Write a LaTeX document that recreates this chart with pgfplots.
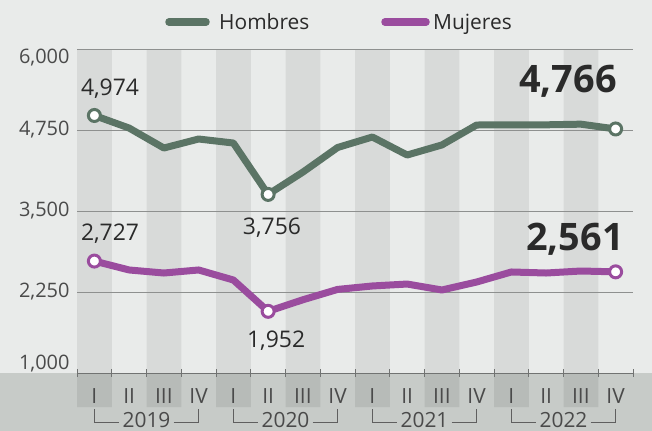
\documentclass[border=0pt]{standalone}
\usepackage{pgfplots}
\pgfplotsset{compat=1.18}
\usepackage{fontspec}
\setmainfont{Open Sans}
\definecolor{bg}{HTML}{E9EBEA}
\definecolor{stripe}{HTML}{D8DAD9}
\definecolor{band}{HTML}{C7CBC8}
\definecolor{bandstripe}{HTML}{B7BBB8}
\definecolor{hom}{HTML}{5B7465}
\definecolor{muj}{HTML}{9A4C9E}
\definecolor{gridc}{HTML}{8E908F}
\definecolor{txt}{HTML}{2A2A2A}
\begin{document}
\begin{tikzpicture}
\fill[bg] (-77bp,-58bp) rectangle (575bp,373bp);
\fill[band] (-77bp,-58bp) rectangle (575bp,0bp);
\begin{axis}[
  at={(0,0)}, anchor=south west, scale only axis,
  width=556bp, height=324bp,
  xmin=-0.5, xmax=15.5, ymin=1000, ymax=6000,
  clip=false,
  axis line style={draw=none},
  major tick length=0pt,
  xtick=\empty,
  ytick={1139,2250,3500,4750,5869},
  yticklabels={{1,000},{2,250},{3,500},{4,750},{6,000}},
  yticklabel style={anchor=east, xshift=-4bp, text=txt!85},
  /pgf/number format/assume math mode=true,
  tick label style={font=\fontsize{20}{24}\selectfont},
]
% stripes
\fill[stripe] (axis cs:-0.5,1000) rectangle (axis cs:0.5,6000)
  (axis cs:1.5,1000) rectangle (axis cs:2.5,6000)
  (axis cs:3.5,1000) rectangle (axis cs:4.5,6000)
  (axis cs:5.5,1000) rectangle (axis cs:6.5,6000)
  (axis cs:7.5,1000) rectangle (axis cs:8.5,6000)
  (axis cs:9.5,1000) rectangle (axis cs:10.5,6000)
  (axis cs:11.5,1000) rectangle (axis cs:12.5,6000)
  (axis cs:13.5,1000) rectangle (axis cs:14.5,6000);
\fill[bandstripe] (axis cs:-0.5,475) rectangle (axis cs:0.5,1000)
  (axis cs:1.5,475) rectangle (axis cs:2.5,1000)
  (axis cs:3.5,475) rectangle (axis cs:4.5,1000)
  (axis cs:5.5,475) rectangle (axis cs:6.5,1000)
  (axis cs:7.5,475) rectangle (axis cs:8.5,1000)
  (axis cs:9.5,475) rectangle (axis cs:10.5,1000)
  (axis cs:11.5,475) rectangle (axis cs:12.5,1000)
  (axis cs:13.5,475) rectangle (axis cs:14.5,1000);
% grid
\draw[gridc, line width=1bp] (axis cs:-0.5,2250) -- (axis cs:15.5,2250)
  (axis cs:-0.5,3500) -- (axis cs:15.5,3500)
  (axis cs:-0.5,4750) -- (axis cs:15.5,4750)
  (axis cs:-0.5,6000) -- (axis cs:15.5,6000);
\draw[gridc!80!black, line width=1bp] (axis cs:-0.5,1000) -- (axis cs:15.5,1000);
\draw[gridc!80!black, line width=1bp]
  (axis cs:-0.5,940) -- (axis cs:-0.5,1060) (axis cs:0.5,940) -- (axis cs:0.5,1060)
  (axis cs:1.5,940) -- (axis cs:1.5,1060) (axis cs:2.5,940) -- (axis cs:2.5,1060)
  (axis cs:3.5,940) -- (axis cs:3.5,1060) (axis cs:4.5,940) -- (axis cs:4.5,1060)
  (axis cs:5.5,940) -- (axis cs:5.5,1060) (axis cs:6.5,940) -- (axis cs:6.5,1060)
  (axis cs:7.5,940) -- (axis cs:7.5,1060) (axis cs:8.5,940) -- (axis cs:8.5,1060)
  (axis cs:9.5,940) -- (axis cs:9.5,1060) (axis cs:10.5,940) -- (axis cs:10.5,1060)
  (axis cs:11.5,940) -- (axis cs:11.5,1060) (axis cs:12.5,940) -- (axis cs:12.5,1060)
  (axis cs:13.5,940) -- (axis cs:13.5,1060) (axis cs:14.5,940) -- (axis cs:14.5,1060)
  (axis cs:15.5,940) -- (axis cs:15.5,1060);
% quarter labels
\begin{scope}[every node/.style={font=\fontsize{21}{24}\selectfont, text=txt!85}]
\node at (axis cs:0,650) {I};  \node at (axis cs:1,650) {II};
\node at (axis cs:2,650) {III}; \node at (axis cs:3,650) {IV};
\node at (axis cs:4,650) {I};  \node at (axis cs:5,650) {II};
\node at (axis cs:6,650) {III}; \node at (axis cs:7,650) {IV};
\node at (axis cs:8,650) {I};  \node at (axis cs:9,650) {II};
\node at (axis cs:10,650) {III}; \node at (axis cs:11,650) {IV};
\node at (axis cs:12,650) {I};  \node at (axis cs:13,650) {II};
\node at (axis cs:14,650) {III}; \node at (axis cs:15,650) {IV};
\end{scope}
% year brackets
\draw[txt!75, line width=1bp]
  (axis cs:0,440) -- (axis cs:0,235) -- (axis cs:0.72,235)
  (axis cs:2.28,235) -- (axis cs:3,235) -- (axis cs:3,440)
  (axis cs:4,440) -- (axis cs:4,235) -- (axis cs:4.72,235)
  (axis cs:6.28,235) -- (axis cs:7,235) -- (axis cs:7,440)
  (axis cs:8,440) -- (axis cs:8,235) -- (axis cs:8.72,235)
  (axis cs:10.28,235) -- (axis cs:11,235) -- (axis cs:11,440)
  (axis cs:12,440) -- (axis cs:12,235) -- (axis cs:12.72,235)
  (axis cs:14.28,235) -- (axis cs:15,235) -- (axis cs:15,440);
\begin{scope}[every node/.style={font=\fontsize{21}{24}\selectfont, text=txt!85}]
\node at (axis cs:1.5,280) {2019};
\node at (axis cs:5.5,280) {2020};
\node at (axis cs:9.5,280) {2021};
\node at (axis cs:13.5,280) {2022};
\end{scope}
% series
\addplot[hom, line width=7bp, line join=round] coordinates {
 (0,4974) (1,4780) (2,4472) (3,4611) (4,4549) (5,3756) (6,4100) (7,4480)
 (8,4642) (9,4364) (10,4519) (11,4827) (12,4830) (13,4830) (14,4840) (15,4766)};
\addplot[muj, line width=7bp, line join=round] coordinates {
 (0,2727) (1,2590) (2,2543) (3,2590) (4,2435) (5,1952) (6,2130) (7,2290)
 (8,2343) (9,2373) (10,2281) (11,2404) (12,2559) (13,2543) (14,2574) (15,2561)};
\addplot[only marks, mark=*, mark size=6bp,
  mark options={fill=white, draw=hom, line width=3bp}] coordinates {
 (0,4974) (5,3756) (15,4766)};
\addplot[only marks, mark=*, mark size=6bp,
  mark options={fill=white, draw=muj, line width=3bp}] coordinates {
 (0,2727) (5,1952) (15,2561)};
% data labels
\begin{scope}[every node/.style={font=\fontsize{23}{26}\selectfont, text=txt}]
\node at (axis cs:0.45,5380) {4,974};
\node at (axis cs:5.11,3238) {3,756};
\node at (axis cs:0.45,3145) {2,727};
\node at (axis cs:5.23,1494) {1,952};
\end{scope}
\begin{scope}[every node/.style={font=\fontsize{38}{40}\selectfont\bfseries, text=txt}]
\node at (axis cs:13.63,5506) {4,766};
\node at (axis cs:13.83,3068) {2,561};
\end{scope}
\end{axis}
% legend
\draw[hom, line width=7.5bp, line cap=round] (92bp,351bp) -- (129bp,351bp);
\node[anchor=base west, inner sep=0pt, text=txt, font=\fontsize{21}{24}\selectfont] at (142bp,343.5bp) {Hombres};
\draw[muj, line width=7.5bp, line cap=round] (308bp,351bp) -- (349bp,351bp);
\node[anchor=base west, inner sep=0pt, text=txt, font=\fontsize{21}{24}\selectfont] at (356bp,343.5bp) {Mujeres};
\pgfresetboundingbox
\path (-77bp,-58bp) rectangle (575bp,373bp);
\end{tikzpicture}
\end{document}
